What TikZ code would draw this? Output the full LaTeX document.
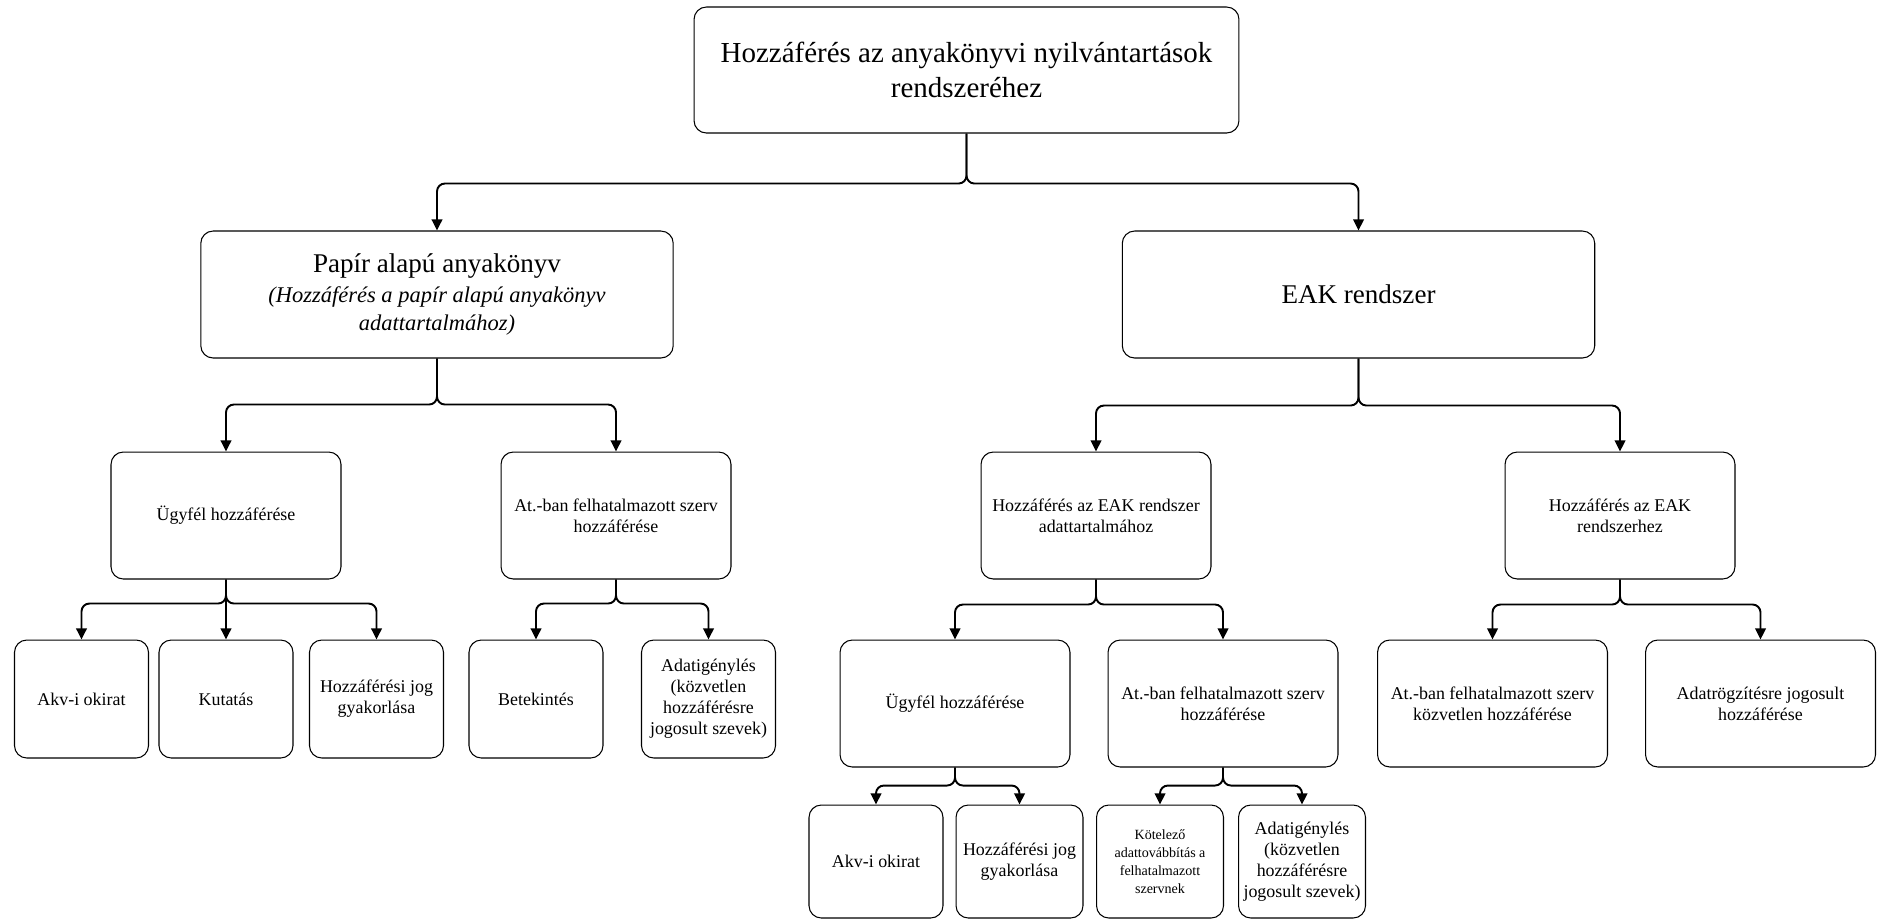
\documentclass[tikz,border=0pt]{standalone}
\usepackage{fontspec}
\setmainfont{Liberation Serif}
\usetikzlibrary{arrows.meta}

\begin{document}
\begin{tikzpicture}[x=0.02cm,y=-0.02cm,
	box/.style={draw,line width=0.6pt,rounded corners=7pt,fill=white,align=center,inner sep=1pt,font=\fontsize{10.2}{12}\selectfont},
	big/.style={box,minimum width=9.45cm,minimum height=2.54cm},
	med/.style={box,minimum width=4.6cm,minimum height=2.54cm},
	leaf/.style={box,minimum width=2.68cm,minimum height=2.36cm},
	tiny/.style={box,minimum width=2.54cm,minimum height=2.26cm},
	conn/.style={line width=1.1pt,rounded corners=4.5pt,-{Triangle[width=6pt,length=6.3pt]}}]
\useasboundingbox (0,0) rectangle (1885,921);
			\node[box,minimum width=10.9cm,minimum height=2.52cm,font=\fontsize{16.5}{19.9}\selectfont] (root) at (966.5,70) {Hozzáférés az anyakönyvi nyilvántartások\\rendszeréhez};
			\node[big,font=\fontsize{12.8}{16}\selectfont] (papir) at (437,294.5) {{\fontsize{15.4}{17}\selectfont Papír alapú anyakönyv}\\[1pt]\itshape (Hozzáférés a papír alapú anyakönyv\\\itshape adattartalmához)};
			\node[big,font=\fontsize{15.4}{17}\selectfont] (eak) at (1358.5,294.5) {EAK rendszer};
			\node[med] (ugyA) at (226,515.5) {Ügyfél hozzáférése};
			\node[med] (atbA) at (616,515.5) {At.-ban felhatalmazott szerv\\hozzáférése};
			\node[med] (eakadat) at (1096,515.5) {Hozzáférés az EAK rendszer\\adattartalmához};
			\node[med] (eakrend) at (1620,515.5) {Hozzáférés az EAK\\rendszerhez};
			\node[leaf] (akvA) at (81.5,699) {Akv-i okirat};
			\node[leaf] (kutatas) at (226,699) {Kutatás};
			\node[leaf] (hozzA) at (376.5,699) {Hozzáférési jog\\gyakorlása};
			\node[leaf] (betek) at (536,699) {Betekintés};
			\node[leaf] (adatA) at (708.5,699) {Adatigénylés\\(közvetlen\\hozzáférésre\\jogosult szevek)};
			\node[med] (ugyB) at (955,703.5) {Ügyfél hozzáférése};
			\node[med] (atbB) at (1223,703.5) {At.-ban felhatalmazott szerv\\hozzáférése};
			\node[med] (atbkozv) at (1492.5,703.5) {At.-ban felhatalmazott szerv\\közvetlen hozzáférése};
			\node[med] (adatrogz) at (1760.5,703.5) {Adatrögzítésre jogosult\\hozzáférése};
			\node[tiny,minimum width=2.68cm] (akvB) at (876,861.5) {Akv-i okirat};
			\node[tiny] (hozzB) at (1019.5,861.5) {Hozzáférési jog\\gyakorlása};
			\node[tiny,font=\fontsize{8}{10.2}\selectfont] (kotel) at (1160,861.5) {Kötelező\\adattovábbítás a\\felhatalmazott\\szervnek};
			\node[tiny] (adatB) at (1302,861.5) {Adatigénylés\\(közvetlen\\hozzáférésre\\jogosult szevek)};
			\foreach \p/\c/\d in {root/papir/50,root/eak/50,papir/ugyA/46,papir/atbA/46,eak/eakadat/47,eak/eakrend/47,
				ugyA/akvA/24,ugyA/hozzA/24,atbA/betek/24,atbA/adatA/24,eakadat/ugyB/25,eakadat/atbB/25,
				eakrend/atbkozv/25,eakrend/adatrogz/25,ugyB/akvB/18,ugyB/hozzB/18,atbB/kotel/18,atbB/adatB/18}
				\draw[conn] (\p.south) -- ++(0,\d) -| (\c.north);
			\draw[conn] (ugyA.south) -- (kutatas.north);
			\end{tikzpicture}
\end{document}
